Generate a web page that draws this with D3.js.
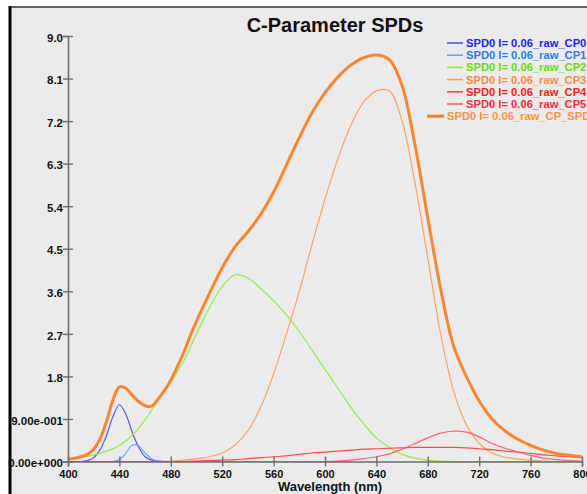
<!DOCTYPE html>
<html>
<head>
<meta charset="utf-8">
<script src="https://cdn.jsdelivr.net/npm/d3@7"></script>
<style>
  body { margin: 0; background: #fff; }
  svg { display: block; font-family: "Liberation Sans", Arial, sans-serif; }
</style>
</head>
<body>
<svg id="chart" width="587" height="494"></svg>
<script>
// wavelength grids (nm)
const wlBroad = [400,410,420,430,440,450,460,470,480,490,500,510,520,530,540,550,560,570,580,590,600,
                 610,620,630,640,650,660,670,680,690,700,710,720,730,740,750,760,770,780,790,800];
const wlBlue = [410,415,420,425,430,435,440,445,450,455,460,465,470,475,480];
const wlTotal = [400,405,410,415,420,425,430,435,440,445,450,455,460,465,470,475,480,485,490,495,500,
                 510,520,530,540,550,560,570,580,590,600,610,620,630,640,650,660,670,680,690,700,
                 710,720,730,740,750,760,770,780,790,800];

// component values
const cp0 = [0,0.02,0.08,0.25,0.55,0.95,1.2,1.0,0.62,0.3,0.1,0.03,0.01,0,0];
const cp1 = [0,0,0,0,0,0,0.04,0.17,0.35,0.33,0.18,0.06,0.01,0,0];
const cp2 = [0.04,0.08,0.14,0.22,0.34,0.55,0.88,1.29,1.68,2.12,2.7,3.25,3.7,3.95,3.88,3.66,3.4,3.1,2.75,2.35,1.95,
             1.55,1.15,0.8,0.5,0.3,0.15,0.07,0.03,0.01,0,0,0,0,0,0,0,0,0,0,0];
const cp3 = [0,0,0,0,0,0,0,0,0.01,0.03,0.06,0.1,0.18,0.35,0.65,1.15,1.85,2.7,3.6,4.6,5.55,
             6.4,7.1,7.6,7.84,7.84,7.2,5.9,4.3,2.7,1.5,0.78,0.38,0.18,0.09,0.05,0.03,0.01,0,0,0];
const cp4 = [0,0,0,0,0,0,0,0,0,0,0.01,0.02,0.03,0.04,0.06,0.08,0.1,0.12,0.15,0.18,0.2,
             0.22,0.24,0.26,0.27,0.28,0.29,0.3,0.3,0.3,0.3,0.29,0.27,0.25,0.22,0.2,0.17,0.14,0.12,0.1,0.08];
const cp5 = [0,0,0,0,0,0,0,0,0,0,0,0,0,0,0,0,0,0,0,0,0,
             0.01,0.03,0.06,0.1,0.16,0.26,0.38,0.5,0.6,0.64,0.62,0.52,0.38,0.28,0.2,0.13,0.07,0.04,0.02,0.01];
const total = [0.05,0.07,0.1,0.15,0.26,0.48,0.85,1.3,1.58,1.55,1.4,1.27,1.18,1.17,1.32,1.5,1.72,2.0,2.3,2.65,2.97,
               3.55,4.1,4.54,4.86,5.23,5.7,6.27,6.85,7.38,7.8,8.13,8.38,8.54,8.6,8.5,7.95,6.7,5.15,3.65,2.45,
               1.8,1.28,0.9,0.65,0.47,0.34,0.24,0.17,0.13,0.1];

const xTicks = [400,440,480,520,560,600,640,680,720,760,800];
const yTicks = [0,0.9,1.8,2.7,3.6,4.5,5.4,6.3,7.2,8.1,9.0];
const yTickLabels = ["0.00e+000","9.00e-001","1.8","2.7","3.6","4.5","5.4","6.3","7.2","8.1","9.0"];

const seriesNames = ["SPD0 I= 0.06_raw_CP0","SPD0 I= 0.06_raw_CP1","SPD0 I= 0.06_raw_CP2",
                     "SPD0 I= 0.06_raw_CP3","SPD0 I= 0.06_raw_CP4","SPD0 I= 0.06_raw_CP5",
                     "SPD0 I= 0.06_raw_CP_SPD"];

const series = [
  {name: seriesNames[0], x: wlBlue, y: cp0, line: "#4a4aee", text: "#2424f0", w: 1.2},
  {name: seriesNames[1], x: wlBlue, y: cp1, line: "#6a9cff", text: "#2b7bff", w: 1.2},
  {name: seriesNames[2], x: wlBroad, y: cp2, line: "#86ec3a", text: "#66dd14", w: 1.2},
  {name: seriesNames[3], x: wlBroad, y: cp3, line: "#ff9a55", text: "#ff8a3a", w: 1.2},
  {name: seriesNames[4], x: wlBroad, y: cp4, line: "#ff3a3a", text: "#ff1a1a", w: 1.2},
  {name: seriesNames[5], x: wlBroad, y: cp5, line: "#ff5566", text: "#ff2a3a", w: 1.2},
  {name: seriesNames[6], x: wlTotal, y: total, line: "#ff8026", text: "#ff9440", w: 3}
];

const svg = d3.select("#chart");

// panel
svg.append("rect").attr("x", 10).attr("y", 7).attr("width", 577).attr("height", 487).attr("fill", "#ebebeb");
svg.append("line").attr("x1", 10).attr("x2", 587).attr("y1", 7).attr("y2", 7)
  .attr("stroke", "#333").attr("stroke-width", 1.5);
svg.append("line").attr("x1", 10).attr("x2", 10).attr("y1", 6).attr("y2", 494)
  .attr("stroke", "#000").attr("stroke-width", 3);

const x = d3.scaleLinear().domain([400, 800]).range([68, 582]);
const y = d3.scaleLinear().domain([0, 9]).range([461.5, 36]);

// title
svg.append("text").attr("x", 335).attr("y", 32).attr("text-anchor", "middle")
  .attr("font-size", 20).attr("font-weight", "bold").attr("fill", "#111")
  .text("C-Parameter SPDs");

// curves
const plot = svg.append("g");
series.forEach(s => {
  const pts = s.x.map((w, i) => [w, s.y[i]]);
  plot.append("path")
    .datum(pts)
    .attr("fill", "none")
    .attr("stroke", s.line)
    .attr("stroke-width", s.w)
    .attr("stroke-opacity", s.w > 2 ? 0.95 : 0.9)
    .attr("d", d3.line().x(d => x(d[0])).y(d => y(Math.max(0, d[1]))).curve(d3.curveCatmullRom.alpha(0.5)));
});

// axes
const axisColor = "#6e6e6e";
const xAxis = svg.append("g").attr("transform", `translate(0,${y(0)})`)
  .call(d3.axisBottom(x).tickValues(xTicks).tickSize(5).tickFormat(d3.format("d")));
const yAxis = svg.append("g").attr("transform", `translate(${x(400)},0)`)
  .call(d3.axisLeft(y).tickValues(yTicks).tickSize(5).tickFormat((d, i) => yTickLabels[i]));

[xAxis, yAxis].forEach(g => {
  g.select(".domain").attr("stroke", axisColor).attr("stroke-width", 1.6);
  g.selectAll(".tick line").attr("stroke", axisColor).attr("stroke-width", 1.4);
  g.selectAll("text").attr("fill", "#111").attr("font-weight", "bold")
    .attr("font-family", "Liberation Sans, Arial, sans-serif");
});
xAxis.selectAll("text").attr("font-size", 11);
yAxis.selectAll("text").attr("font-size", 11.5);
// ticks cross the axis line
xAxis.selectAll(".tick line").attr("y1", -5).attr("y2", 5);
xAxis.selectAll(".tick text").attr("y", 8.5);
yAxis.selectAll(".tick line").attr("x1", -5).attr("x2", 5);
yAxis.selectAll(".tick text").attr("x", -5).attr("dy", "0.45em");

// axis title
svg.append("text").attr("x", 330).attr("y", 491).attr("text-anchor", "middle")
  .attr("font-size", 13).attr("font-weight", "bold").attr("fill", "#111")
  .text("Wavelength (nm)");

// legend
const legend = svg.append("g");
series.forEach((s, i) => {
  const ly = 43 + i * 12.2;
  const last = i === series.length - 1;
  const x0 = last ? 427 : 447;
  const x1 = last ? 444 : 463;
  legend.append("line").attr("x1", x0).attr("x2", x1).attr("y1", ly).attr("y2", ly)
    .attr("stroke", s.line).attr("stroke-width", last ? 3 : 1.5);
  legend.append("text").attr("x", x1 + 3).attr("y", ly + 4)
    .attr("font-size", 11.2).attr("font-weight", "bold").attr("fill", s.text)
    .text(s.name);
});
</script>
</body>
</html>
